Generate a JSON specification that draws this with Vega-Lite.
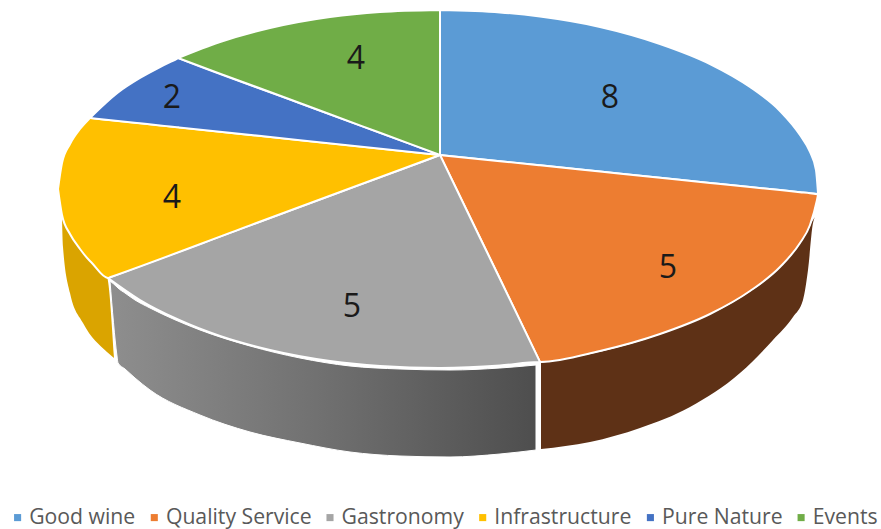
{"$schema":"https://vega.github.io/schema/vega-lite/v6.json","width":881,"height":529,"padding":0,"autosize":{"type":"none"},"background":"white","config":{"view":{"stroke":null}},
"datasets":{
"walls":[
{"part":"yellow","x":6.2,"y":21.5,"y2":21.8},{"part":"yellow","x":6.3,"y":21.7,"y2":24.7},{"part":"yellow","x":7.0,"y":23.4,"y2":29.3},{"part":"yellow","x":8.3,"y":25.3,"y2":32.3},{"part":"yellow","x":10.7,"y":27.7,"y2":35.2},{"part":"yellow","x":11.4,"y":35.8,"y2":35.8},
{"part":"gray","x":11.0,"y":28.1,"y2":28.1},{"part":"gray","x":11.7,"y":28.7,"y2":35.6},{"part":"gray","x":11.8,"y":28.8,"y2":36.3},{"part":"gray","x":12.5,"y":29.3,"y2":36.9},{"part":"gray","x":13.5,"y":30.0,"y2":37.8},{"part":"gray","x":15.0,"y":30.8,"y2":39.0},{"part":"gray","x":20.0,"y":33.0,"y2":41.5},{"part":"gray","x":25.0,"y":34.6,"y2":43.2},{"part":"gray","x":30.0,"y":35.8,"y2":44.3},{"part":"gray","x":35.0,"y":36.6,"y2":45.2},{"part":"gray","x":40.0,"y":36.9,"y2":45.6},{"part":"gray","x":45.0,"y":37.0,"y2":45.7},{"part":"gray","x":50.0,"y":36.8,"y2":45.4},{"part":"gray","x":53.6,"y":36.5,"y2":45.0},
{"part":"brown","x":54.1,"y":36.3,"y2":44.9},{"part":"brown","x":59.0,"y":35.4,"y2":44.2},{"part":"brown","x":64.0,"y":34.1,"y2":42.8},{"part":"brown","x":69.0,"y":32.3,"y2":40.7},{"part":"brown","x":74.0,"y":29.8,"y2":37.3},{"part":"brown","x":77.3,"y":27.4,"y2":34.0},{"part":"brown","x":79.3,"y":25.3,"y2":31.7},{"part":"brown","x":80.3,"y":23.9,"y2":30.0},{"part":"brown","x":80.8,"y":23.0,"y2":27.0},{"part":"brown","x":81.3,"y":22.0,"y2":22.3},{"part":"brown","x":81.5,"y":21.7,"y2":21.7}
],
"faces":[
{"slice":"Good wine","x":44.0,"y":1.0,"y2":15.5},{"slice":"Good wine","x":50.0,"y":1.24,"y2":16.12},{"slice":"Good wine","x":54.0,"y":1.66,"y2":16.53},{"slice":"Good wine","x":60.0,"y":2.7,"y2":17.15},{"slice":"Good wine","x":66.0,"y":4.4,"y2":17.77},{"slice":"Good wine","x":71.0,"y":6.4,"y2":18.29},{"slice":"Good wine","x":75.0,"y":8.7,"y2":18.7},{"slice":"Good wine","x":78.0,"y":11.1,"y2":19.0},{"slice":"Good wine","x":80.0,"y":13.5,"y2":19.22},{"slice":"Good wine","x":81.0,"y":15.2,"y2":19.32},{"slice":"Good wine","x":81.6,"y":17.0,"y2":19.38},{"slice":"Good wine","x":81.8,"y":19.3,"y2":19.4},
{"slice":"Quality Service","x":44.0,"y":15.5,"y2":15.5},{"slice":"Quality Service","x":50.0,"y":16.12,"y2":27.9},{"slice":"Quality Service","x":53.9,"y":16.52,"y2":35.99},{"slice":"Quality Service","x":54.0,"y":16.53,"y2":36.2},{"slice":"Quality Service","x":60.0,"y":17.15,"y2":35.1},{"slice":"Quality Service","x":66.0,"y":17.77,"y2":33.4},{"slice":"Quality Service","x":71.0,"y":18.29,"y2":31.4},{"slice":"Quality Service","x":75.0,"y":18.7,"y2":29.1},{"slice":"Quality Service","x":78.0,"y":19.0,"y2":26.7},{"slice":"Quality Service","x":80.0,"y":19.22,"y2":24.3},{"slice":"Quality Service","x":81.0,"y":19.32,"y2":22.5},{"slice":"Quality Service","x":81.7,"y":19.43,"y2":20.0},{"slice":"Quality Service","x":81.8,"y":19.45,"y2":19.5},
{"slice":"Gastronomy","x":10.8,"y":27.8,"y2":27.8},{"slice":"Gastronomy","x":14.0,"y":26.6,"y2":30.0},{"slice":"Gastronomy","x":17.8,"y":25.2,"y2":31.95},{"slice":"Gastronomy","x":22.0,"y":23.65,"y2":33.6},{"slice":"Gastronomy","x":27.0,"y":21.8,"y2":35.0},{"slice":"Gastronomy","x":33.0,"y":19.58,"y2":36.1},{"slice":"Gastronomy","x":38.0,"y":17.72,"y2":36.6},{"slice":"Gastronomy","x":43.9,"y":15.54,"y2":36.8},{"slice":"Gastronomy","x":44.0,"y":15.5,"y2":36.8},{"slice":"Gastronomy","x":44.1,"y":15.71,"y2":36.8},{"slice":"Gastronomy","x":50.0,"y":27.9,"y2":36.56},{"slice":"Gastronomy","x":53.9,"y":35.99,"y2":36.2},{"slice":"Gastronomy","x":54.0,"y":36.2,"y2":36.2},
{"slice":"Infrastructure","x":5.8,"y":18.9,"y2":18.9},{"slice":"Infrastructure","x":6.2,"y":16.3,"y2":21.5},{"slice":"Infrastructure","x":7.0,"y":14.4,"y2":23.4},{"slice":"Infrastructure","x":8.0,"y":12.9,"y2":24.9},{"slice":"Infrastructure","x":8.9,"y":11.9,"y2":26.0},{"slice":"Infrastructure","x":9.0,"y":11.8,"y2":26.1},{"slice":"Infrastructure","x":9.1,"y":11.81,"y2":26.2},{"slice":"Infrastructure","x":10.8,"y":11.99,"y2":27.8},{"slice":"Infrastructure","x":11.0,"y":12.01,"y2":27.73},{"slice":"Infrastructure","x":25.0,"y":13.49,"y2":22.54},{"slice":"Infrastructure","x":44.0,"y":15.5,"y2":15.5},
{"slice":"Pure Nature","x":9.0,"y":11.8,"y2":11.8},{"slice":"Pure Nature","x":11.8,"y":9.25,"y2":12.1},{"slice":"Pure Nature","x":14.0,"y":7.8,"y2":12.33},{"slice":"Pure Nature","x":16.0,"y":6.7,"y2":12.54},{"slice":"Pure Nature","x":17.0,"y":6.21,"y2":12.65},{"slice":"Pure Nature","x":17.7,"y":5.88,"y2":12.72},{"slice":"Pure Nature","x":17.8,"y":5.8,"y2":12.73},{"slice":"Pure Nature","x":17.9,"y":5.84,"y2":12.74},{"slice":"Pure Nature","x":30.0,"y":10.32,"y2":14.02},{"slice":"Pure Nature","x":44.0,"y":15.5,"y2":15.5},
{"slice":"Events","x":17.8,"y":5.8,"y2":5.8},{"slice":"Events","x":22.0,"y":4.2,"y2":7.36},{"slice":"Events","x":27.0,"y":2.8,"y2":9.2},{"slice":"Events","x":33.0,"y":1.7,"y2":11.43},{"slice":"Events","x":38.0,"y":1.2,"y2":13.28},{"slice":"Events","x":44.0,"y":1.0,"y2":15.5}
],
"labels":[
{"slice":"Good wine","votes":8,"x":61.0,"y":9.8},{"slice":"Quality Service","votes":5,"x":66.8,"y":26.8},{"slice":"Gastronomy","votes":5,"x":35.2,"y":30.7},{"slice":"Infrastructure","votes":4,"x":17.2,"y":19.8},{"slice":"Pure Nature","votes":2,"x":17.2,"y":9.8},{"slice":"Events","votes":4,"x":35.6,"y":5.9}
]},
"encoding":{
"x":{"field":"x","type":"quantitative","scale":{"domain":[0,88.1],"nice":false,"zero":false},"axis":null},
"y":{"field":"y","type":"quantitative","scale":{"domain":[52.9,0],"nice":false,"zero":false},"axis":null}},
"layer":[
{"data":{"name":"walls"},"transform":[{"filter":"datum.part==='yellow'"}],"mark":{"type":"area","interpolate":"monotone","opacity":1,"fill":"#DAA400"},"encoding":{"y2":{"field":"y2"}}},
{"data":{"name":"walls"},"transform":[{"filter":"datum.part==='gray'"}],"mark":{"type":"area","interpolate":"monotone","opacity":1,"stroke":"white","strokeWidth":1,"fill":{"gradient":"linear","x1":0,"y1":0,"x2":1,"y2":0,"stops":[{"offset":0,"color":"#8E8E8E"},{"offset":0.5,"color":"#707070"},{"offset":1,"color":"#4E4E4E"}]}},"encoding":{"y2":{"field":"y2"}}},
{"data":{"name":"walls"},"transform":[{"filter":"datum.part==='brown'"}],"mark":{"type":"area","interpolate":"monotone","opacity":1,"fill":"#5E3116"},"encoding":{"y2":{"field":"y2"}}},
{"data":{"name":"faces"},"mark":{"type":"area","interpolate":"monotone","opacity":1,"stroke":"white","strokeWidth":2},"encoding":{"y2":{"field":"y2"},
"color":{"field":"slice","type":"nominal","scale":{"domain":["Good wine","Quality Service","Gastronomy","Infrastructure","Pure Nature","Events"],"range":["#5B9BD5","#ED7D31","#A5A5A5","#FFC000","#4472C4","#70AD47"]},
"legend":{"title":null,"orient":"none","legendX":7,"legendY":507,"direction":"horizontal","columns":6,"gridAlign":"none","symbolType":"square","symbolSize":50,"symbolStrokeWidth":0,"labelFont":"Open Sans","labelFontSize":21.2,"labelColor":"#595959","labelOffset":1,"columnPadding":7.7,"padding":0}}}},
{"data":{"name":"labels"},"mark":{"type":"text","font":"Open Sans","fontSize":32,"color":"#1a1a1a","align":"center","baseline":"middle"},"encoding":{"text":{"field":"votes","type":"quantitative"}}}
]}
